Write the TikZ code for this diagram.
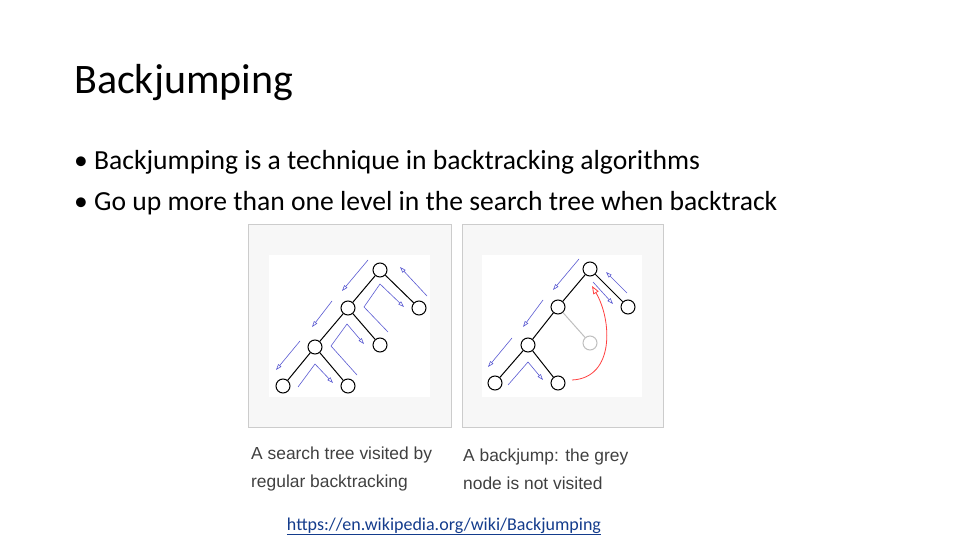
\documentclass[tikz,border=0pt]{standalone}
\usepackage{fontspec}
\setmainfont{Carlito}
\newfontfamily\capfont{Liberation Sans}
\usetikzlibrary{arrows.meta}
\definecolor{arr}{RGB}{90,90,210}
\definecolor{lnk}{RGB}{20,60,140}
\begin{document}
\begin{tikzpicture}[x=1pt,y=-1pt,
  tn/.style={circle,draw,line width=1pt,minimum size=14pt,inner sep=0pt},
  gn/.style={circle,draw=black!25,line width=1pt,minimum size=14pt,inner sep=0pt},
  ed/.style={line width=1pt},
  ba/.style={draw=arr,line width=0.6pt,-{Triangle[open,length=6pt,width=4pt]}},
  panel/.style={draw=black!20,fill=black!3,line width=1pt},
  captext/.style={anchor=west,font=\capfont\fontsize{17.4}{28}\selectfont,text=black!75,align=left,inner sep=0pt}]
\useasboundingbox (0,0) rectangle (960,540);
\node[anchor=base west,inner sep=0pt,font=\fontsize{42}{44}\selectfont] (title) at (74,94) {Backjumping};
\node[anchor=base west,inner sep=0pt,font=\fontsize{27.6}{30}\selectfont] (b1) at (74,170) {• Backjumping is a technique in backtracking algorithms};
\node[anchor=base west,inner sep=0pt,font=\fontsize{27.6}{30}\selectfont] (b2) at (74,210) {• Go up more than one level in the search tree when backtrack};
% panels
\draw[panel] (248,224) rectangle (451,427);
\fill[white] (269,255) rectangle (430,397);
\draw[panel] (462,224) rectangle (663,427);
\fill[white] (482,255) rectangle (642,397);
% left tree
\node[tn] (a) at (380,270) {};
\node[tn] (b) at (348,308) {};
\node[tn] (c) at (419,308) {};
\node[tn] (d) at (315,347) {};
\node[tn] (e) at (380,345) {};
\node[tn] (f) at (283,386) {};
\node[tn] (g) at (348,386) {};
\draw[ed] (a)--(b) (a)--(c) (b)--(d) (b)--(e) (d)--(f) (d)--(g);
\draw[ba] (368,260)--(342,291);
\draw[ba] (427,296)--(400,267);
\draw[ba] (332,301)--(312,327);
\draw[ba] (388,332)--(364,307)--(380,284)--(404,307);
\draw[ba] (300,341)--(276,370);
\draw[ba] (357,375)--(331,346)--(347,324)--(364,344);
\draw[ba] (298,387)--(315,364)--(333,383);
% right tree
\node[tn] (ra) at (590,269) {};
\node[tn] (rb) at (558,307) {};
\node[tn] (rc) at (628,307) {};
\node[gn] (rg) at (590,343) {};
\node[tn] (rd) at (528,345) {};
\node[tn] (rf) at (495,383) {};
\node[tn] (rh) at (558,383) {};
\draw[ed] (ra)--(rb) (ra)--(rc) (rb)--(rd) (rd)--(rf) (rd)--(rh);
\draw[ed,draw=black!25] (rb)--(rg);
\draw[ba] (579,259)--(553,290);
\draw[ba] (627,293)--(606,272);
\draw[ba] (593,282)--(613,304);
\draw[ba] (543,300)--(523,327);
\draw[ba] (512,338)--(488,367);
\draw[ba] (508,385)--(528,362)--(543,380);
\draw[draw=red!75,line width=0.8pt,-{Triangle[open,length=8pt,width=6pt]}] (572,380) .. controls (615,378) and (612,320) .. (592,286);
% captions
\node[captext] (c1) at (251,469) {A search tree visited by\\regular backtracking};
\node[captext] (c2) at (463,469) {A backjump: the grey\\node is not visited};
\node[anchor=base,inner sep=0pt,text=lnk,font=\fontsize{18}{20}\selectfont] (url) at (444,530) {\underline{https://en.wikipedia.org/wiki/Backjumping}};
\end{tikzpicture}
\end{document}
